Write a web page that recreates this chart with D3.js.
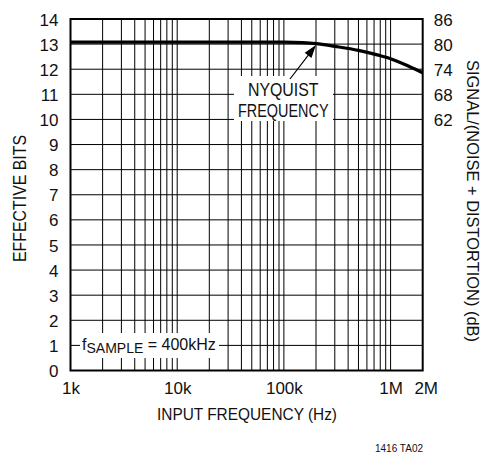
<!DOCTYPE html>
<html>
<head>
<meta charset="utf-8">
<script src="https://cdn.jsdelivr.net/npm/d3@7"></script>
<style>
  html, body { margin: 0; padding: 0; background: #fff; }
  svg { display: block; }
  text { font-family: "Liberation Sans", Arial, sans-serif; fill: #111; }
</style>
</head>
<body>
<svg id="chart" width="482" height="454"></svg>
<script>
// Effective bits vs. input frequency (fs = 400kHz)
const freqHz = [1e3, 1e4, 5e4, 1e5, 1.5e5, 2e5, 3e5, 5e5, 7.5e5, 1e6, 1.5e6, 2e6];
const effBits = [13.08, 13.08, 13.08, 13.08, 13.06, 13.02, 12.91, 12.75, 12.57, 12.42, 12.11, 11.86];

const xTickValues = [1e3, 1e4, 1e5, 1e6, 2e6];
const xTickLabels = ["1k", "10k", "100k", "1M", "2M"];
const yTickValues = [0, 1, 2, 3, 4, 5, 6, 7, 8, 9, 10, 11, 12, 13, 14];
const dbTickBits = [14, 13, 12, 11, 10];
const dbTickLabels = ["86", "80", "74", "68", "62"];
const nyquistHz = 2e5;

const svg = d3.select("#chart");
const plotL = 70.5, plotR = 422.7, plotT = 19, plotB = 370.5;

const x = d3.scaleLog().domain([1e3, 2e6]).range([plotL, plotR]);
const y = d3.scaleLinear().domain([0, 14]).range([plotB, plotT]);

// minor decade lines 1..9 per decade
const gridX = [];
for (let d = 1e3; d < 2e6; d *= 10) {
  for (let m = 1; m <= 9; m++) {
    const v = d * m;
    if (v > 1e3 && v < 2e6) gridX.push(v);
  }
}

const grid = svg.append("g").attr("stroke", "#000").attr("stroke-width", 1);
grid.selectAll("line.v").data(gridX).join("line")
  .attr("x1", d => x(d)).attr("x2", d => x(d))
  .attr("y1", plotT).attr("y2", plotB);
grid.selectAll("line.h").data(yTickValues.filter(v => v > 0 && v < 14)).join("line")
  .attr("x1", plotL).attr("x2", plotR)
  .attr("y1", d => y(d)).attr("y2", d => y(d));

// the curve
const line = d3.line()
  .x((d, i) => x(freqHz[i]))
  .y(d => y(d))
  .curve(d3.curveMonotoneX);
svg.append("path")
  .attr("d", line(effBits))
  .attr("fill", "none")
  .attr("stroke", "#000")
  .attr("stroke-width", 3.2);

// label boxes that knock out the grid
svg.append("rect").attr("x", 234).attr("y", 76).attr("width", 99).attr("height", 45).attr("fill", "#fff");
svg.append("rect").attr("x", 80).attr("y", 333).attr("width", 139).attr("height", 25).attr("fill", "#fff");

// frame
svg.append("rect")
  .attr("x", plotL).attr("y", plotT)
  .attr("width", plotR - plotL).attr("height", plotB - plotT)
  .attr("fill", "none").attr("stroke", "#000").attr("stroke-width", 2);

// fitted text helper
function fitText(sel, len) {
  return sel.attr("textLength", len).attr("lengthAdjust", "spacingAndGlyphs");
}

// Nyquist annotation
fitText(svg.append("text").attr("x", 248).attr("y", 95.5)
  .attr("font-size", 18.5).text("NYQUIST"), 70.5);
fitText(svg.append("text").attr("x", 238).attr("y", 117)
  .attr("font-size", 18.5).text("FREQUENCY"), 90.5);

const nyqBits = 13.02;
const tipX = x(nyquistHz), tipY = y(nyqBits) + 1.5;
const tailX = 290, tailY = 79;
const ang = Math.atan2(tipY - tailY, tipX - tailX);
const headLen = 13, headW = 4.2;
svg.append("line")
  .attr("x1", tailX).attr("y1", tailY)
  .attr("x2", tipX - Math.cos(ang) * headLen * 0.8).attr("y2", tipY - Math.sin(ang) * headLen * 0.8)
  .attr("stroke", "#000").attr("stroke-width", 1.2);
const bx = tipX - Math.cos(ang) * headLen, by = tipY - Math.sin(ang) * headLen;
svg.append("path")
  .attr("d", `M${tipX},${tipY} L${bx - Math.sin(ang) * headW},${by + Math.cos(ang) * headW} L${bx + Math.sin(ang) * headW},${by - Math.cos(ang) * headW} Z`)
  .attr("fill", "#000");

// sample-rate note
const fs = svg.append("text").attr("x", 82).attr("y", 349.5).attr("font-size", 16);
fs.append("tspan").text("f");
fs.append("tspan").attr("font-size", 14).attr("dy", 3.5).text("SAMPLE");
fs.append("tspan").attr("dy", -3.5).text(" = 400kHz");

// left axis
const yAxis = d3.axisLeft(y).tickValues(yTickValues).tickSize(0).tickPadding(12);
const gy = svg.append("g").attr("transform", `translate(${plotL},0)`).call(yAxis);
gy.select(".domain").remove();
gy.selectAll("text").attr("font-size", 17).attr("dy", "0.36em")
  .style("font-family", "Liberation Sans, Arial, sans-serif").attr("fill", "#111");

// right axis (dB)
const yDb = d3.axisRight(y).tickValues(dbTickBits).tickFormat((d, i) => dbTickLabels[i]).tickSize(0).tickPadding(11);
const gr = svg.append("g").attr("transform", `translate(${plotR},0)`).call(yDb);
gr.select(".domain").remove();
gr.selectAll("text").attr("font-size", 17).attr("dy", "0.36em")
  .style("font-family", "Liberation Sans, Arial, sans-serif").attr("fill", "#111");

// bottom axis
const xAxis = d3.axisBottom(x).tickValues(xTickValues).tickFormat((d, i) => xTickLabels[i]).tickSize(0).tickPadding(11);
const gx = svg.append("g").attr("transform", `translate(0,${plotB})`).call(xAxis);
gx.select(".domain").remove();
gx.selectAll("text").attr("font-size", 17)
  .style("font-family", "Liberation Sans, Arial, sans-serif").attr("fill", "#111");
gx.selectAll(".tick").filter(d => d === 2e6).select("text").attr("dx", 3);

// axis titles
fitText(svg.append("text").attr("x", 157).attr("y", 420)
  .attr("font-size", 16.5).text("INPUT FREQUENCY (Hz)"), 180);
fitText(svg.append("text").attr("transform", "translate(26,262) rotate(-90)")
  .attr("font-size", 17.5).text("EFFECTIVE BITS"), 127);
fitText(svg.append("text").attr("transform", "translate(466.5,60) rotate(90)")
  .attr("font-size", 17).text("SIGNAL/(NOISE + DISTORTION) (dB)"), 282);

svg.append("text").attr("x", 375).attr("y", 452)
  .attr("font-size", 10).text("1416 TA02");
</script>
</body>
</html>
